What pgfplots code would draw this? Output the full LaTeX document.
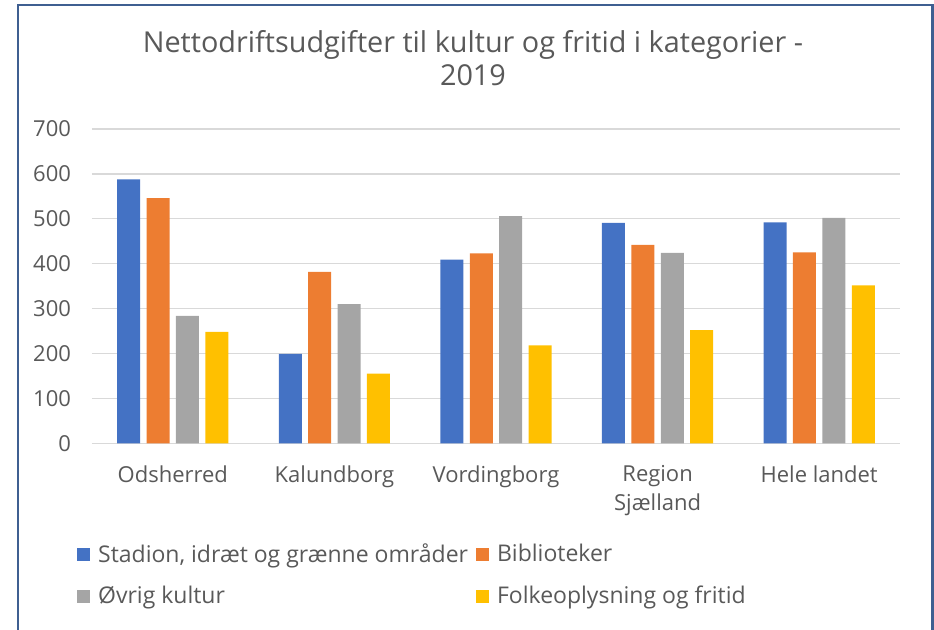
\documentclass[border=0pt]{standalone}
\usepackage{pgfplots}
\pgfplotsset{compat=1.18}
\usepackage{fontspec}
\setmainfont{Open Sans}
\definecolor{cblue}{HTML}{4472C4}
\definecolor{corange}{HTML}{ED7D31}
\definecolor{cgray}{HTML}{A5A5A5}
\definecolor{cyellow}{HTML}{FFC000}
\definecolor{textgray}{HTML}{595959}
\definecolor{gridgray}{HTML}{D9D9D9}
\definecolor{frameblue}{HTML}{3F5F91}
\begin{document}
\begin{tikzpicture}
\path[use as bounding box] (0,0) rectangle (467pt,315pt);
\draw[frameblue, line width=1.15pt] (9pt,-1pt) -- (9pt,312.5pt) -- (466.25pt,312.5pt) -- (466.25pt,-1pt);
\begin{axis}[
  at={(46pt,93.35pt)}, anchor=south west,
  scale only axis, width=404pt, height=157.15pt,
  ybar, bar width=11.5pt,
  xmin=-0.5, xmax=4.5, ymin=0, ymax=700,
  xtick={0,1,2,3,4},
  xticklabels={Odsherred,Kalundborg,Vordingborg,{Region\\Sjælland},Hele landet},
  ytick={0,100,...,700},
  major tick length=0pt,
  axis line style={draw=none},
  ymajorgrids, grid style={gridgray, line width=0.6pt},
  /pgf/number format/assume math mode=true,
  tick label style={text=textgray, font=\fontsize{11}{14.5}\selectfont},
  xticklabel style={align=center, yshift=-7.5pt},
  yticklabel style={xshift=-7pt},
  title={Nettodriftsudgifter til kultur og fritid i kategorier -\\2019},
  title style={at={(axis description cs:0.4715,1.186)}, anchor=center, align=center, text=textgray, font=\fontsize{14.4}{16.5}\selectfont},
  legend columns=2,
  legend cell align=left,
  legend style={at={(axis description cs:-0.0189,-0.3045)}, anchor=north west, draw=none, fill=none, inner sep=0pt,
    font=\fontsize{11.5}{13.5}\selectfont, text=textgray, row sep=6.5pt, column sep=2pt},
  legend image code/.code={\fill[#1] (0pt,-3.25pt) rectangle (6.5pt,3.25pt);},
]
\addplot[fill=cblue, draw=none, bar shift=-22.05pt] coordinates {(0,588) (1,199) (2,409) (3,491) (4,492)};
\addplot[fill=corange, draw=none, bar shift=-7.35pt] coordinates {(0,546) (1,382) (2,423) (3,442) (4,425)};
\addplot[fill=cgray, draw=none, bar shift=7.35pt] coordinates {(0,284) (1,310) (2,506) (3,424) (4,502)};
\addplot[fill=cyellow, draw=none, bar shift=22.05pt] coordinates {(0,248) (1,155) (2,218) (3,252) (4,352)};
\legend{{Stadion, idræt og grænne områder},Biblioteker,Øvrig kultur,Folkeoplysning og fritid}
\end{axis}
\end{tikzpicture}
\end{document}
